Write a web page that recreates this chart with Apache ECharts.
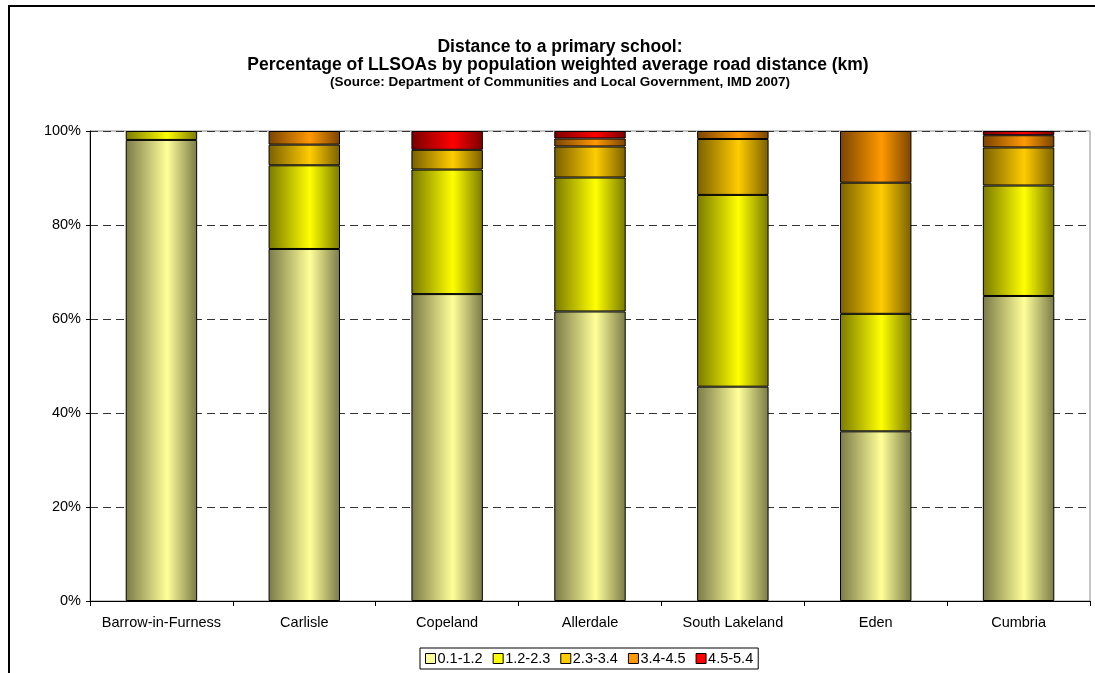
<!DOCTYPE html>
<html>
<head>
<meta charset="utf-8">
<title>Distance to a primary school</title>
<script src="https://cdn.jsdelivr.net/npm/echarts@6/dist/echarts.min.js"></script>
<style>
  html, body { margin: 0; padding: 0; background: #fff; }
  #chart { width: 1095px; height: 673px; }
</style>
</head>
<body>
<div id="chart"></div>
<script>
// Districts of Cumbria plus the county total
const categories = ['Barrow-in-Furness', 'Carlisle', 'Copeland', 'Allerdale', 'South Lakeland', 'Eden', 'Cumbria'];

// Share of LLSOAs (%) in each distance band (km)
const band01_12 = [98.1, 74.9, 65.3, 61.6, 45.6, 36.1, 64.9];
const band12_23 = [1.9, 17.8, 26.5, 28.5, 40.8, 25.0, 23.5];
const band23_34 = [0, 4.4, 4.2, 6.6, 11.9, 27.9, 8.1];
const band34_45 = [0, 2.9, 0, 1.7, 1.7, 11.0, 2.6];
const band45_54 = [0, 0, 4.0, 1.6, 0, 0, 0.9];

const bandNames = ['0.1-1.2', '1.2-2.3', '2.3-3.4', '3.4-4.5', '4.5-5.4'];
const yTicks = [0, 20, 40, 60, 80, 100];

// base colour and shaded edge colour for each band
const palette = [
  { base: '#FFFF99', edge: '#7A7A48' },
  { base: '#FFFF00', edge: '#7A7A00' },
  { base: '#FFCC00', edge: '#7A6000' },
  { base: '#FF9900', edge: '#7A4400' },
  { base: '#FF0000', edge: '#7A0000' }
];

const bands = [band01_12, band12_23, band23_34, band34_45, band45_54];

function shade(p) {
  return new echarts.graphic.LinearGradient(0, 0, 1, 0, [
    { offset: 0, color: p.edge },
    { offset: 0.58, color: p.base },
    { offset: 1, color: p.edge }
  ]);
}

const font = '"Liberation Sans", Arial, sans-serif';
const labelSize = 14.5;

const series = bands.map((vals, i) => ({
  name: bandNames[i],
  type: 'bar',
  stack: 'share',
  barCategoryGap: '50%',
  data: vals.map(v => (v > 0 ? v : null)),
  itemStyle: { color: shade(palette[i]), borderColor: '#000', borderWidth: 1 },
  emphasis: { disabled: true }
}));

const chart = echarts.init(document.getElementById('chart'), null, { renderer: 'canvas' });

chart.setOption({
  animation: false,
  backgroundColor: '#fff',
  textStyle: { fontFamily: font },
  title: [
    {
      text: 'Distance to a primary school:',
      left: 555, top: 33, textAlign: 'center',
      textStyle: { fontSize: 17.5, fontWeight: 'bold', color: '#000', fontFamily: font }
    },
    {
      text: 'Percentage of LLSOAs by population weighted average road distance (km)',
      left: 553, top: 51, textAlign: 'center',
      textStyle: { fontSize: 17.5, fontWeight: 'bold', color: '#000', fontFamily: font }
    },
    {
      text: '(Source: Department of Communities and Local Government, IMD 2007)',
      left: 555, top: 70, textAlign: 'center',
      textStyle: { fontSize: 13.5, fontWeight: 'bold', color: '#000', fontFamily: font }
    }
  ],
  legend: {
    left: 420, top: 648,
    data: bandNames.map((n, i) => ({
      name: n,
      itemStyle: { color: palette[i].base, borderColor: '#000', borderWidth: 1 }
    })),
    icon: 'rect',
    itemWidth: 10, itemHeight: 10, itemGap: 10,
    padding: [3, 5, 3, 5],
    borderColor: '#000', borderWidth: 1,
    textStyle: { fontSize: labelSize, color: '#000', fontFamily: font, padding: [0, 0, 0, -3] }
  },
  grid: {
    left: 90, right: 5, top: 131, bottom: 72,
    show: true, borderColor: '#8c8c8c', borderWidth: 1
  },
  xAxis: {
    type: 'category',
    data: categories,
    axisLine: { lineStyle: { color: '#000' } },
    axisTick: { show: true, length: 5, lineStyle: { color: '#000' } },
    axisLabel: { fontSize: labelSize, color: '#000', margin: 14, interval: 0 }
  },
  yAxis: {
    type: 'value',
    min: yTicks[0], max: yTicks[yTicks.length - 1], interval: 20,
    axisLine: { show: true, lineStyle: { color: '#000' } },
    axisTick: { show: true, length: 4, lineStyle: { color: '#000' } },
    axisLabel: { fontSize: labelSize, color: '#000', margin: 9, formatter: v => v + '%' },
    splitLine: { lineStyle: { color: '#333', type: [8, 5], width: 1 } }
  },
  graphic: [
    {
      type: 'rect', silent: true, z: 100,
      shape: { x: 9, y: 6, width: 1200, height: 800 },
      style: { fill: 'none', stroke: '#000', lineWidth: 2 }
    }
  ],
  series: series
});
</script>
</body>
</html>
